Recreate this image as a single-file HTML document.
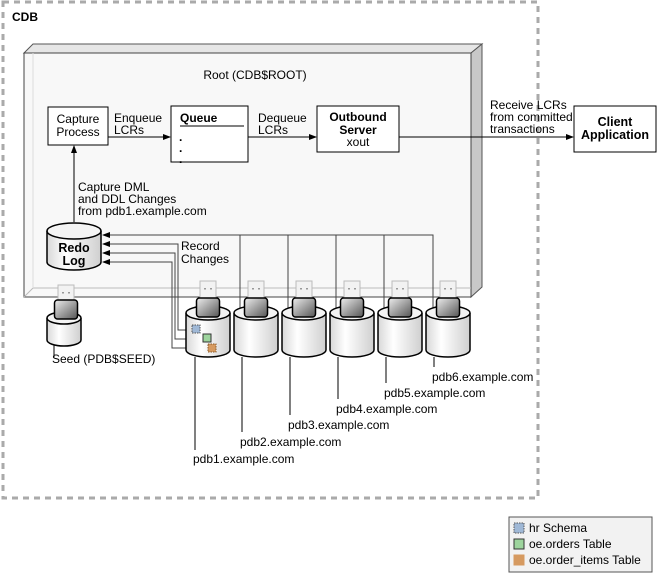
<!DOCTYPE html>
<html><head><meta charset="utf-8"><style>
body{margin:0;background:#fff;}
svg{display:block;}
text{font-family:"Liberation Sans",sans-serif;font-size:12px;fill:#000;}
.b{font-weight:bold;}
</style></head><body>
<svg width="657" height="579" viewBox="0 0 657 579" xmlns="http://www.w3.org/2000/svg">
<defs>
<marker id="ar" markerWidth="8" markerHeight="6" refX="7" refY="3" orient="auto" markerUnits="userSpaceOnUse"><path d="M0,0 L8,3 L0,6 z" fill="#000"/></marker>
<linearGradient id="cyl" x1="0" x2="1" y1="0" y2="0"><stop offset="0" stop-color="#d8d8d8"/><stop offset="0.35" stop-color="#fff"/><stop offset="1" stop-color="#cfcfcf"/></linearGradient>
<linearGradient id="usb" x1="0" x2="1" y1="0" y2="1"><stop offset="0" stop-color="#eee"/><stop offset="1" stop-color="#555"/></linearGradient>
<symbol id="db" overflow="visible">
<path d="M-22,7 L-22,44 A22,7 0 0 0 22,44 L22,7" fill="url(#cyl)" stroke="#000" stroke-width="1.5"/>
<ellipse cx="0" cy="7" rx="22" ry="7" fill="#f4f4f4" stroke="#000" stroke-width="1.5"/>
</symbol>
<symbol id="plug" overflow="visible">
<rect x="-8" y="0" width="16" height="17" fill="#f2f2f2" stroke="#bbb"/>
<rect x="-4" y="7" width="2" height="1.5" fill="#999"/><rect x="2" y="7" width="2" height="1.5" fill="#999"/>
</symbol>
<symbol id="body" overflow="visible">
<rect x="-11.5" y="0" width="23" height="19" rx="3" fill="url(#usb)" stroke="#000" stroke-width="1.5"/>
</symbol>
</defs>

<rect x="3" y="2" width="535" height="496" fill="none" stroke="#aaa" stroke-width="3" stroke-dasharray="6,5"/>
<text x="12" y="21" class="b">CDB</text>

<polygon points="24,53 33,44 482,44 471,53" fill="#e6e6e6" stroke="#555"/>
<polygon points="471,53 482,44 482,287 471,297" fill="#c8c8c8" stroke="#555"/>
<rect x="24" y="53" width="447" height="244" fill="#f8f8f8" stroke="#444"/>
<polyline points="24,297 33,288 471,288" fill="none" stroke="#bbb"/>
<line x1="33" y1="288" x2="33" y2="53" stroke="#ddd"/>

<text x="255" y="79" text-anchor="middle">Root (CDB$ROOT)</text>

<rect x="48" y="107" width="60" height="38" fill="#fff" stroke="#000"/>
<text x="78" y="123" text-anchor="middle">Capture</text>
<text x="78" y="136" text-anchor="middle">Process</text>
<line x1="108" y1="137" x2="170" y2="137" stroke="#000" marker-end="url(#ar)"/>
<text x="114" y="122">Enqueue</text><text x="114" y="134">LCRs</text>

<rect x="171" y="106" width="77" height="56" fill="#fff" stroke="#000"/>
<text x="180" y="122" class="b">Queue</text>
<line x1="180" y1="126" x2="244" y2="126" stroke="#000"/>
<text x="179" y="141" class="b">.</text><text x="179" y="152" class="b">.</text><text x="179" y="163" class="b">.</text>
<line x1="248" y1="137" x2="316" y2="137" stroke="#000" marker-end="url(#ar)"/>
<text x="258" y="122">Dequeue</text><text x="258" y="134">LCRs</text>

<rect x="317" y="106" width="82" height="46" fill="#fff" stroke="#000"/>
<text x="358" y="121" text-anchor="middle" class="b">Outbound</text>
<text x="358" y="134" text-anchor="middle" class="b">Server</text>
<text x="358" y="146" text-anchor="middle">xout</text>
<line x1="399" y1="137" x2="573" y2="137" stroke="#000" marker-end="url(#ar)"/>
<text x="490" y="109">Receive LCRs</text><text x="490" y="121">from committed</text><text x="490" y="133">transactions</text>

<rect x="574" y="106" width="82" height="46" fill="#fff" stroke="#000"/>
<text x="615" y="126" text-anchor="middle" class="b" style="font-size:12.5px">Client</text>
<text x="615" y="139" text-anchor="middle" class="b" style="font-size:12.5px">Application</text>

<line x1="74" y1="222" x2="74" y2="146" stroke="#000" marker-end="url(#ar)"/>
<text x="78" y="191">Capture DML</text><text x="78" y="203">and DDL Changes</text><text x="78" y="215">from pdb1.example.com</text>

<path d="M47,231 L47,262 A27,8 0 0 0 101,262 L101,231" fill="url(#cyl)" stroke="#000" stroke-width="1.5"/>
<ellipse cx="74" cy="231" rx="27" ry="8" fill="#f4f4f4" stroke="#000" stroke-width="1.5"/>
<text x="74" y="252" text-anchor="middle" class="b" style="font-size:12.5px">Redo</text>
<text x="74" y="265" text-anchor="middle" class="b" style="font-size:12.5px">Log</text>

<g fill="none" stroke="#444">
<polyline points="433,312 433,235 103,235" marker-end="url(#ar)"/>
<line x1="240" y1="235" x2="240" y2="312"/>
<line x1="288" y1="235" x2="288" y2="312"/>
<line x1="336" y1="235" x2="336" y2="312"/>
<line x1="384" y1="235" x2="384" y2="312"/>
<polyline points="192,330 178,330 178,244 103,244" marker-end="url(#ar)"/>
<polyline points="203,339 175,339 175,253 103,253" marker-end="url(#ar)"/>
<polyline points="208,348 172,348 172,262 103,262" marker-end="url(#ar)"/>
</g>
<text x="181" y="250">Record</text><text x="181" y="263">Changes</text>

<use href="#plug" x="66" y="285"/>
<use href="#plug" x="208" y="281"/><use href="#plug" x="256" y="281"/><use href="#plug" x="304" y="281"/>
<use href="#plug" x="352" y="281"/><use href="#plug" x="400" y="281"/><use href="#plug" x="448" y="281"/>

<path d="M47,318 L47,340 A17,6 0 0 0 81,340 L81,318" fill="url(#cyl)" stroke="#000" stroke-width="1.5"/>
<ellipse cx="64" cy="318" rx="17" ry="6" fill="#f4f4f4" stroke="#000" stroke-width="1.5"/>
<use href="#body" x="66" y="300"/>
<line x1="54" y1="345" x2="54" y2="357" stroke="#000"/>
<text x="52" y="363">Seed (PDB$SEED)</text>

<g>
<use href="#db" x="208" y="306"/><use href="#body" x="208" y="298"/>
<use href="#db" x="256" y="306"/><use href="#body" x="256" y="298"/>
<use href="#db" x="304" y="306"/><use href="#body" x="304" y="298"/>
<use href="#db" x="352" y="306"/><use href="#body" x="352" y="298"/>
<use href="#db" x="400" y="306"/><use href="#body" x="400" y="298"/>
<use href="#db" x="448" y="306"/><use href="#body" x="448" y="298"/>
</g>
<rect x="192" y="325" width="8" height="8" fill="#9fb8d6" stroke="#555" stroke-dasharray="1.5,1"/>
<rect x="203" y="334" width="8" height="8" fill="#9dd49d" stroke="#333"/>
<rect x="208" y="344" width="8" height="8" fill="#d69a60" stroke="#8a5a2a" stroke-dasharray="1.5,1"/>

<g stroke="#000">
<line x1="195" y1="357" x2="195" y2="450"/>
<line x1="242" y1="357" x2="242" y2="432"/>
<line x1="290" y1="357" x2="290" y2="415"/>
<line x1="338" y1="357" x2="338" y2="399"/>
<line x1="386" y1="357" x2="386" y2="383"/>
<line x1="434" y1="357" x2="434" y2="367"/>
</g>
<text x="193" y="463">pdb1.example.com</text>
<text x="240" y="446">pdb2.example.com</text>
<text x="288" y="429">pdb3.example.com</text>
<text x="336" y="413">pdb4.example.com</text>
<text x="384" y="397">pdb5.example.com</text>
<text x="432" y="381">pdb6.example.com</text>

<rect x="509" y="517" width="143" height="55" fill="#f2f2f2" stroke="#555"/>
<rect x="514" y="523" width="10" height="10" fill="#9fb8d6" stroke="#555" stroke-dasharray="1.5,1"/>
<text x="529" y="532">hr Schema</text>
<rect x="514" y="539" width="10" height="10" fill="#9dd49d" stroke="#333"/>
<text x="529" y="548">oe.orders Table</text>
<rect x="514" y="555" width="10" height="10" fill="#d69a60" stroke="#d69a60"/>
<text x="529" y="564">oe.order_items Table</text>
</svg>
</body></html>
